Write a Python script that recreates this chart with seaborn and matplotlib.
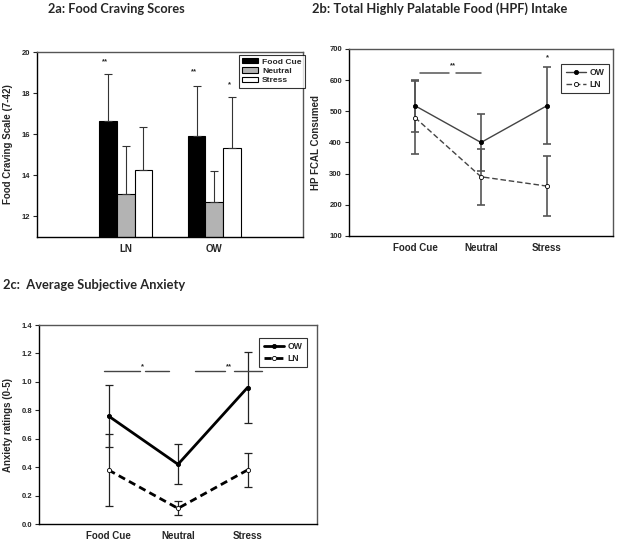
import matplotlib
matplotlib.use("Agg")
import matplotlib.pyplot as plt
import seaborn as sns
import pandas as pd
import numpy as np
from matplotlib.lines import Line2D

# ---------------- data ----------------
groups_a = ["LN", "OW"]
conditions = ["Food Cue", "Neutral", "Stress"]
craving_LN = [16.65, 13.10, 14.27]
craving_LN_err = [2.30, 2.32, 2.08]
craving_OW = [15.93, 12.68, 15.32]
craving_OW_err = [2.40, 1.54, 2.50]
craving_stars = [("LN", "Food Cue", 19.55, "**"), ("OW", "Food Cue", 19.05, "**"), ("OW", "Stress", 18.4, "*")]

hpf_OW = [518, 400, 518]
hpf_OW_err = [83, 92, 124]
hpf_LN = [480, 290, 260]
hpf_LN_err = [118, 90, 97]

anx_OW = [0.76, 0.42, 0.96]
anx_OW_err = [0.22, 0.14, 0.25]
anx_LN = [0.38, 0.11, 0.38]
anx_LN_err = [0.25, 0.05, 0.12]

sns.set_style("white")
plt.rcParams["font.family"] = ["Liberation Sans", "DejaVu Sans"]

fig = plt.figure(figsize=(6.2, 5.4), dpi=100)

def style_axes(ax):
    for s in ["left", "bottom"]:
        ax.spines[s].set_color("black")
        ax.spines[s].set_linewidth(1.0)
    for s in ["top", "right"]:
        ax.spines[s].set_color("#555555")
        ax.spines[s].set_linewidth(1.0)
    ax.tick_params(axis="y", direction="out", length=3, width=0.8, left=True, labelsize=5.5, pad=2)
    ax.tick_params(axis="x", length=0, labelsize=7, pad=5)
    for lab in ax.get_yticklabels() + ax.get_xticklabels():
        lab.set_fontweight("bold")

# ---------------- 2a ----------------
ax1 = fig.add_axes([0.0597, 0.5617, 0.429, 0.342])
df_a = pd.DataFrame({
    "group": np.repeat(groups_a, 3),
    "condition": conditions * 2,
    "value": craving_LN + craving_OW,
})
pal = {"Food Cue": "black", "Neutral": "#b3b3b3", "Stress": "white"}
sns.barplot(data=df_a, x="group", y="value", hue="condition", order=groups_a,
            hue_order=conditions, palette=pal, width=0.6, errorbar=None,
            edgecolor="black", linewidth=0.8, ax=ax1)
errs = {"LN": craving_LN_err, "OW": craving_OW_err}
vals = {"LN": craving_LN, "OW": craving_OW}
for gi, g in enumerate(groups_a):
    for ci, c in enumerate(conditions):
        x = gi + (ci - 1) * 0.2
        ax1.errorbar([x], [vals[g][ci]], yerr=[[0], [errs[g][ci]]], fmt="none",
                     ecolor="#333333", elinewidth=0.8, capsize=3, capthick=0.8, zorder=1)
for g, c, y, s in craving_stars:
    x = groups_a.index(g) + (conditions.index(c) - 1) * 0.2 - 0.03
    ax1.text(x, y, s, ha="center", va="center", fontsize=5.5, fontweight="bold")
ax1.set_xlim(-1, 2)
ax1.set_ylim(11, 20)
ax1.set_yticks([12, 14, 16, 18, 20])
ax1.set_xlabel("")
ax1.set_ylabel("Food Craving Scale (7-42)", fontsize=7, fontweight="bold", labelpad=6)
style_axes(ax1)
leg = ax1.legend(loc="upper right", bbox_to_anchor=(1.008, 0.985), borderaxespad=0,
                 frameon=True, fancybox=False, edgecolor="black", handlelength=1.9,
                 handleheight=0.55, borderpad=0.4, labelspacing=0.2, handletextpad=0.45,
                 prop=dict(weight="bold", size=6.1))
leg.get_frame().set_linewidth(0.8)

# ---------------- line panels ----------------
def line_panel(rect, ow, ow_err, ln, ln_err, lw, ylim, yticks, ylabel, fmt, label_pad,
               ecol, elw, leg_anchor):
    ax = fig.add_axes(rect)
    df_ow = pd.DataFrame({"condition": conditions, "value": ow})
    df_ln = pd.DataFrame({"condition": conditions, "value": ln})
    dash = (0, (4, 2)) if lw < 1.5 else (0, (2.6, 1.6))
    lcol = "#444444" if lw < 1.5 else "black"
    ms = 3.0
    xs = np.arange(len(conditions))
    ax.errorbar(xs, ow, yerr=ow_err, fmt="none", ecolor=ecol, elinewidth=elw,
                capsize=3, capthick=elw, zorder=1)
    ax.errorbar(xs, ln, yerr=ln_err, fmt="none", ecolor=ecol, elinewidth=elw,
                capsize=3, capthick=elw, zorder=1)
    sns.pointplot(data=df_ow, x="condition", y="value", order=conditions, color=lcol,
                  errorbar=None, markers="o", linestyles="-", ax=ax,
                  markersize=ms, markerfacecolor="black", markeredgecolor="black",
                  markeredgewidth=0.6, linewidth=lw)
    sns.pointplot(data=df_ln, x="condition", y="value", order=conditions, color=lcol,
                  errorbar=None, markers="o", linestyles=dash, ax=ax,
                  markersize=ms, markerfacecolor="white", markeredgecolor="black",
                  markeredgewidth=0.6, linewidth=lw)
    ax.set_xlim(-1, 3)
    ax.set_ylim(*ylim)
    ax.set_yticks(yticks)
    ax.yaxis.set_major_formatter(matplotlib.ticker.FormatStrFormatter(fmt))
    ax.set_xlabel("")
    ax.set_ylabel(ylabel, fontsize=7, fontweight="bold", labelpad=label_pad)
    style_axes(ax)
    handles = [
        Line2D([0], [0], color=lcol, lw=lw, marker="o", markersize=ms,
               markerfacecolor="black", markeredgecolor="black", markeredgewidth=0.6),
        Line2D([0], [0], color=lcol, lw=lw, ls=dash, marker="o", markersize=ms,
               markerfacecolor="white", markeredgecolor="black", markeredgewidth=0.6),
    ]
    lg = ax.legend(handles, ["OW", "LN"], loc="upper right", bbox_to_anchor=leg_anchor,
                   borderaxespad=0, frameon=True, fancybox=False, edgecolor="black",
                   handlelength=2.4, borderpad=0.5, labelspacing=0.3, handletextpad=0.4,
                   prop=dict(weight="bold", size=6.2))
    lg.get_frame().set_linewidth(0.8)
    return ax

ax2 = line_panel([0.5629, 0.563, 0.4258, 0.3463], hpf_OW, hpf_OW_err, hpf_LN, hpf_LN_err,
                 1.0, (100, 700), [100, 200, 300, 400, 500, 600, 700], "HP FCAL Consumed",
                 "%d", 6, "#555555", 1.2, (0.985, 0.92))
# significance 2b
ax2.plot([0.07, 0.52], [624, 624], color="#555555", lw=1.1)
ax2.plot([0.62, 1.0], [624, 624], color="#555555", lw=1.1)
ax2.text(0.57, 646, "**", ha="center", va="center", fontsize=5.5, fontweight="bold")
ax2.text(2.0, 672, "*", ha="center", va="center", fontsize=5.5, fontweight="bold")

ax3 = line_panel([0.0629, 0.0296, 0.4484, 0.3685], anx_OW, anx_OW_err, anx_LN, anx_LN_err,
                 2.0, (0, 1.4), [0.0, 0.2, 0.4, 0.6, 0.8, 1.0, 1.2, 1.4],
                 "Anxiety ratings (0-5)", "%.1f", 6, "#222222", 0.9, (0.964, 0.935))
ax3.plot([-0.06, 0.46], [1.078, 1.078], color="#444444", lw=1.0)
ax3.plot([0.52, 0.87], [1.078, 1.078], color="#444444", lw=1.0)
ax3.text(0.49, 1.105, "*", ha="center", va="center", fontsize=5.5, fontweight="bold")
ax3.plot([1.24, 1.68], [1.078, 1.078], color="#444444", lw=1.0)
ax3.plot([1.80, 2.21], [1.078, 1.078], color="#444444", lw=1.0)
ax3.text(1.74, 1.105, "**", ha="center", va="center", fontsize=5.5, fontweight="bold")

# ---------------- titles ----------------
TF = ["Lato", "DejaVu Sans"]
fig.text(48 / 620, 1 - 9 / 540, "2a: Food Craving Scores", ha="left", va="center",
         fontsize=9.2, fontweight="bold", family=TF)
fig.text(312 / 620, 1 - 9 / 540, "2b: Total Highly Palatable Food (HPF) Intake", ha="left",
         va="center", fontsize=9.3, fontweight="bold", family=TF)
fig.text(3 / 620, 1 - 285 / 540, "2c:  Average Subjective Anxiety", ha="left", va="center",
         fontsize=9.3, fontweight="bold", family=TF)

fig.savefig("out.png", dpi=100)
